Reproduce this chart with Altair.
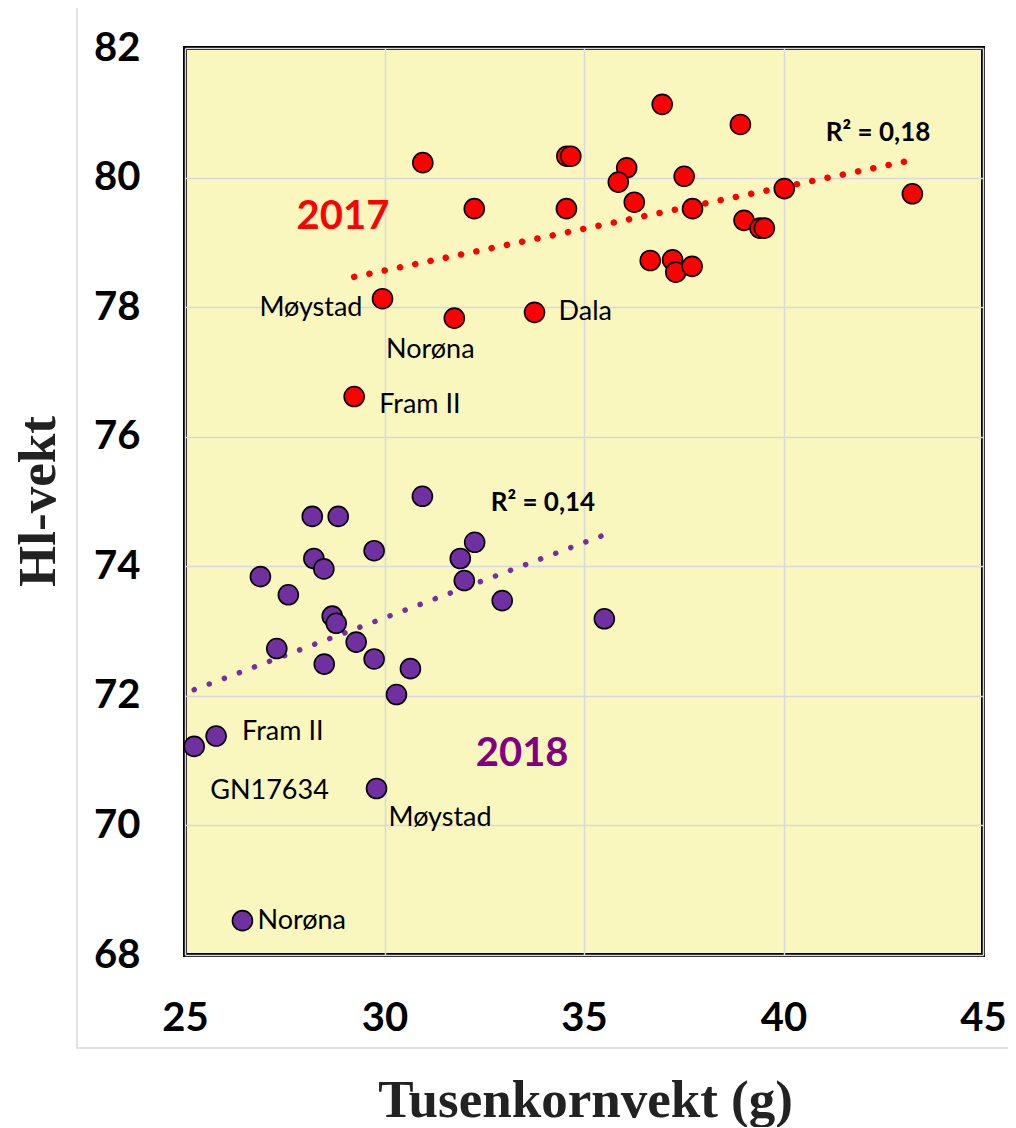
import altair as alt
import pandas as pd

# ---- data ----
x2017 = [30.96, 34.57, 34.67, 32.25, 34.56, 29.95, 31.75, 33.76, 29.24, 36.96,
         38.92, 36.07, 35.86, 37.51, 36.26, 37.72, 40.02, 43.23, 39.01, 39.41,
         39.52, 36.66, 37.22, 37.30, 37.71]
y2017 = [80.23, 80.33, 80.33, 79.52, 79.52, 78.13, 77.83, 77.92, 76.62, 81.13,
         80.82, 80.15, 79.93, 80.02, 79.62, 79.52, 79.83, 79.75, 79.34, 79.22,
         79.22, 78.72, 78.73, 78.54, 78.63]
name2017 = ["", "", "", "", "", "Møystad", "Norøna", "Dala", "Fram II"] + [""] * 16

x2018 = [30.95, 28.19, 28.84, 29.74, 32.26, 31.90, 28.23, 28.48, 26.89, 27.59,
         32.00, 32.95, 35.51, 28.69, 28.79, 29.29, 27.30, 28.49, 29.74, 30.65,
         30.30, 25.78, 25.23, 29.80, 26.44]
y2018 = [75.08, 74.77, 74.77, 74.24, 74.37, 74.12, 74.12, 73.96, 73.84, 73.56,
         73.78, 73.47, 73.19, 73.23, 73.12, 72.83, 72.73, 72.49, 72.57, 72.42,
         72.02, 71.38, 71.22, 70.57, 68.53]
name2018 = [""] * 21 + ["Fram II", "GN17634", "Møystad", "Norøna"]

x_ticks = [25, 30, 35, 40, 45]
y_ticks = [68, 70, 72, 74, 76, 78, 80, 82]

ann_text = ["2017", "2018", "R² = 0,18", "R² = 0,14"]
ann_x = [28.96, 33.45, 42.37, 33.97]
ann_y = [79.39, 71.11, 80.69, 74.97]

# ---- tables ----
df = pd.DataFrame({
    "x": x2017 + x2018,
    "y": y2017 + y2018,
    "year": ["2017"] * len(x2017) + ["2018"] * len(x2018),
    "name": name2017 + name2018,
})
ann = pd.DataFrame({"text": ann_text, "x": ann_x, "y": ann_y})

RED = "#FF0000"
PURPLE = "#7030A0"
PURPLE_TXT = "#800080"
LBL_FONT = "Lato"

xs = alt.Scale(domain=[25, 45], nice=False, zero=False)
ys = alt.Scale(domain=[68, 82], nice=False, zero=False)
xaxis = alt.Axis(values=x_ticks, title="Tusenkornvekt (g)", domain=False, ticks=False,
                 tickSize=0, labelPadding=43, labelFontSize=40, labelFont=LBL_FONT,
                 labelFontWeight="bold", labelColor="black", labelFlush=False,
                 titleFont="Liberation Serif", titleFontSize=53, titleFontWeight="bold",
                 titleColor="#222222", titleX=400, titleY=161, titleBaseline="alphabetic",
                 titleAlign="center", grid=True, gridColor="#D8D8E2", gridWidth=1.5)
yaxis = alt.Axis(values=y_ticks, title="Hl-vekt", domain=False, ticks=False,
                 tickSize=0, labelPadding=45, labelFontSize=40, labelFont=LBL_FONT,
                 labelFontWeight="bold", labelColor="black", labelFlush=False,
                 titleFont="Liberation Serif", titleFontSize=53, titleFontWeight="bold",
                 titleColor="#222222", titleX=-147, titleY=453, titleAngle=270,
                 titleBaseline="middle", titleAlign="center",
                 grid=True, gridColor="#D8D8E2", gridWidth=1.5)

X = alt.X("x:Q", scale=xs, axis=xaxis)
Y = alt.Y("y:Q", scale=ys, axis=yaxis)

base = alt.Chart(df)

# outer chart-area border (decoration)
border = alt.Chart(ann).mark_rect(fill="transparent", stroke="#D9D9D9", strokeWidth=1.5).encode(
    x=alt.value(-108), x2=alt.value(850), y=alt.value(-42), y2=alt.value(1000)
).transform_filter(alt.datum.text == "2017")

trend17 = base.transform_filter(alt.datum.year == "2017").transform_regression(
    "x", "y").mark_line(color=RED, strokeWidth=6.5, strokeDash=[0.1, 15.5],
                        strokeCap="round").encode(x=X, y=Y)
trend18 = base.transform_filter(alt.datum.year == "2018").transform_regression(
    "x", "y").mark_line(color=PURPLE, strokeWidth=5.5, strokeDash=[0.1, 16],
                        strokeCap="round").encode(x=X, y=Y)

pts17 = base.transform_filter(alt.datum.year == "2017").mark_point(
    shape="circle", filled=True, size=400, fill=RED, stroke="black", strokeWidth=1.6,
    opacity=1).encode(x=X, y=Y)
pts18 = base.transform_filter(alt.datum.year == "2018").mark_point(
    shape="circle", filled=True, size=400, fill=PURPLE, stroke="black", strokeWidth=1.6,
    opacity=1).encode(x=X, y=Y)

# name label placement: (year, name, align, dx, dy)
placements = [
    ("2017", "Møystad", "right", -20, 9),
    ("2017", "Norøna", "center", -24, 32),
    ("2017", "Dala", "left", 24, 0),
    ("2017", "Fram II", "left", 25, 8),
    ("2018", "Fram II", "left", 26, -4),
    ("2018", "GN17634", "left", 16, 45),
    ("2018", "Møystad", "left", 12, 29),
    ("2018", "Norøna", "left", 15, 0),
]
labels = []
for yr, nm, al, dx, dy in placements:
    labels.append(
        base.transform_filter((alt.datum.year == yr) & (alt.datum.name == nm))
        .mark_text(align=al, baseline="middle", dx=dx, dy=dy, font=LBL_FONT,
                   fontSize=27, color="black")
        .encode(x=X, y=Y, text="name:N")
    )

abase = alt.Chart(ann)
ann_styles = [
    ("2017", RED, 40),
    ("2018", PURPLE_TXT, 40),
    ("R² = 0,18", "black", 26),
    ("R² = 0,14", "black", 26),
]
anns = []
for t, c, fs in ann_styles:
    anns.append(
        abase.transform_filter(alt.datum.text == t)
        .mark_text(align="center", baseline="middle", font=LBL_FONT, fontSize=fs,
                   fontWeight="bold", color=c)
        .encode(x=X, y=Y, text="text:N")
    )

chart = alt.layer(border, trend17, trend18, pts17, pts18, *labels, *anns).properties(
    width=798, height=907,
    autosize=alt.AutoSizeParams(type="none"),
    padding={"left": 177, "top": 40, "right": 25, "bottom": 172},
).configure_view(fill="#F9F7BD", stroke="black", strokeWidth=4)

chart.save("out.html", embed_options={"renderer": "svg", "actions": False})
